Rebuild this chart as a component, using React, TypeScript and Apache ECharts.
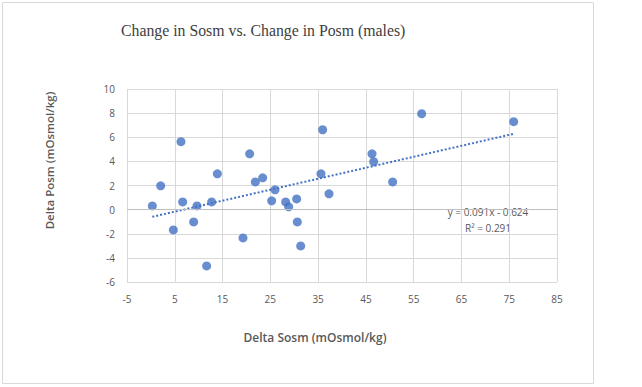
import React, { useEffect, useRef } from "react";
import * as echarts from "echarts";

const sosm = [0.3, 2.05, 6.3, 6.65, 4.7, 8.95, 9.65, 12.72, 11.67, 13.91, 19.28, 20.67, 21.86, 23.4, 25.28, 25.98, 28.21, 28.84, 30.51, 30.65, 31.35, 35.6, 35.95, 37.28, 46.28, 46.63, 50.6, 56.67, 75.93];
const posm = [0.31, 1.97, 5.63, 0.64, -1.68, -1.02, 0.31, 0.64, -4.67, 2.97, -2.35, 4.63, 2.3, 2.64, 0.73, 1.64, 0.64, 0.23, 0.89, -1.02, -3.01, 2.97, 6.62, 1.31, 4.63, 3.97, 2.3, 7.95, 7.29];
const trendSlope = 0.091;
const trendIntercept = -0.624;
const trendRange = [0.3, 75.93];
const xTicks = { min: -5, max: 85, interval: 10 };
const yTicks = { min: -6, max: 10, interval: 2 };
const titleText = "Change in Sosm vs. Change in Posm (males)";
const xName = "Delta Sosm (mOsmol/kg)";
const yName = "Delta Posm (mOsmol/kg)";
const eqText = "y = 0.091x - 0.624";
const r2Text = "R² = 0.291";

const FONT = "Open Sans";
const GRAY = "#595959";

export default function App() {
  const ref = useRef<HTMLDivElement>(null);
  useEffect(() => {
    document.body.style.margin = "0";
    const chart = echarts.init(ref.current!, null, { renderer: "svg" });
    const points = sosm.map((x, i) => [x, posm[i]]);
    const trend = trendRange.map((x) => [x, trendSlope * x + trendIntercept]);
    chart.setOption({
      animation: false,
      backgroundColor: "#ffffff",
      grid: { left: 127, right: 85, top: 89, bottom: 105 },
      xAxis: {
        type: "value",
        min: xTicks.min,
        max: xTicks.max,
        interval: xTicks.interval,
        axisLine: { show: false },
        axisTick: { show: false },
        axisLabel: { color: GRAY, fontFamily: FONT, fontSize: 10, margin: 12 },
        splitLine: { show: true, lineStyle: { color: "#d9d9d9", width: 1 } },
      },
      yAxis: {
        type: "value",
        min: yTicks.min,
        max: yTicks.max,
        interval: yTicks.interval,
        axisLine: { show: false },
        axisTick: { show: false },
        axisLabel: { color: GRAY, fontFamily: FONT, fontSize: 10, margin: 12 },
        splitLine: { show: true, lineStyle: { color: "#d9d9d9", width: 1 } },
      },
      series: [
        {
          type: "line",
          data: trend,
          showSymbol: false,
          symbol: "none",
          lineStyle: { color: "#4472C4", width: 2, type: [2, 2] },
          z: 3,
          markLine: {
            silent: true,
            symbol: "none",
            label: { show: false },
            lineStyle: { color: "#bfbfbf", width: 1, type: "solid" },
            data: [{ yAxis: 0 }],
          },
        },
        {
          type: "scatter",
          data: points,
          symbol: "circle",
          symbolSize: 9,
          itemStyle: { color: "#4472C4" },
          z: 4,
        },
      ],
      graphic: [
        {
          type: "rect",
          shape: { x: 2.5, y: 2.5, width: 591, height: 381 },
          style: { fill: "none", stroke: "#d9d9d9", lineWidth: 1 },
          silent: true,
        },
        {
          type: "text",
          x: 121,
          y: 30,
          style: { text: titleText, fill: "#404040", font: "15.8px 'Liberation Serif'", verticalAlign: "middle" },
        },
        {
          type: "text",
          x: 315,
          y: 337,
          style: { text: xName, fill: GRAY, font: `600 12px '${FONT}'`, align: "center", verticalAlign: "middle" },
        },
        {
          type: "text",
          x: 49,
          y: 160.5,
          rotation: Math.PI / 2,
          style: { text: yName, fill: GRAY, font: `600 11.5px '${FONT}'`, align: "center", verticalAlign: "middle" },
        },
        {
          type: "text",
          x: 488,
          y: 212,
          style: { text: eqText, fill: GRAY, font: `10px '${FONT}'`, align: "center", verticalAlign: "middle" },
        },
        {
          type: "text",
          x: 488,
          y: 227.5,
          style: { text: r2Text, fill: GRAY, font: `10px '${FONT}'`, align: "center", verticalAlign: "middle" },
        },
      ],
    });
    return () => chart.dispose();
  }, []);
  return <div ref={ref} style={{ position: "absolute", left: 0, top: 0, width: 642, height: 387 }} />;
}
